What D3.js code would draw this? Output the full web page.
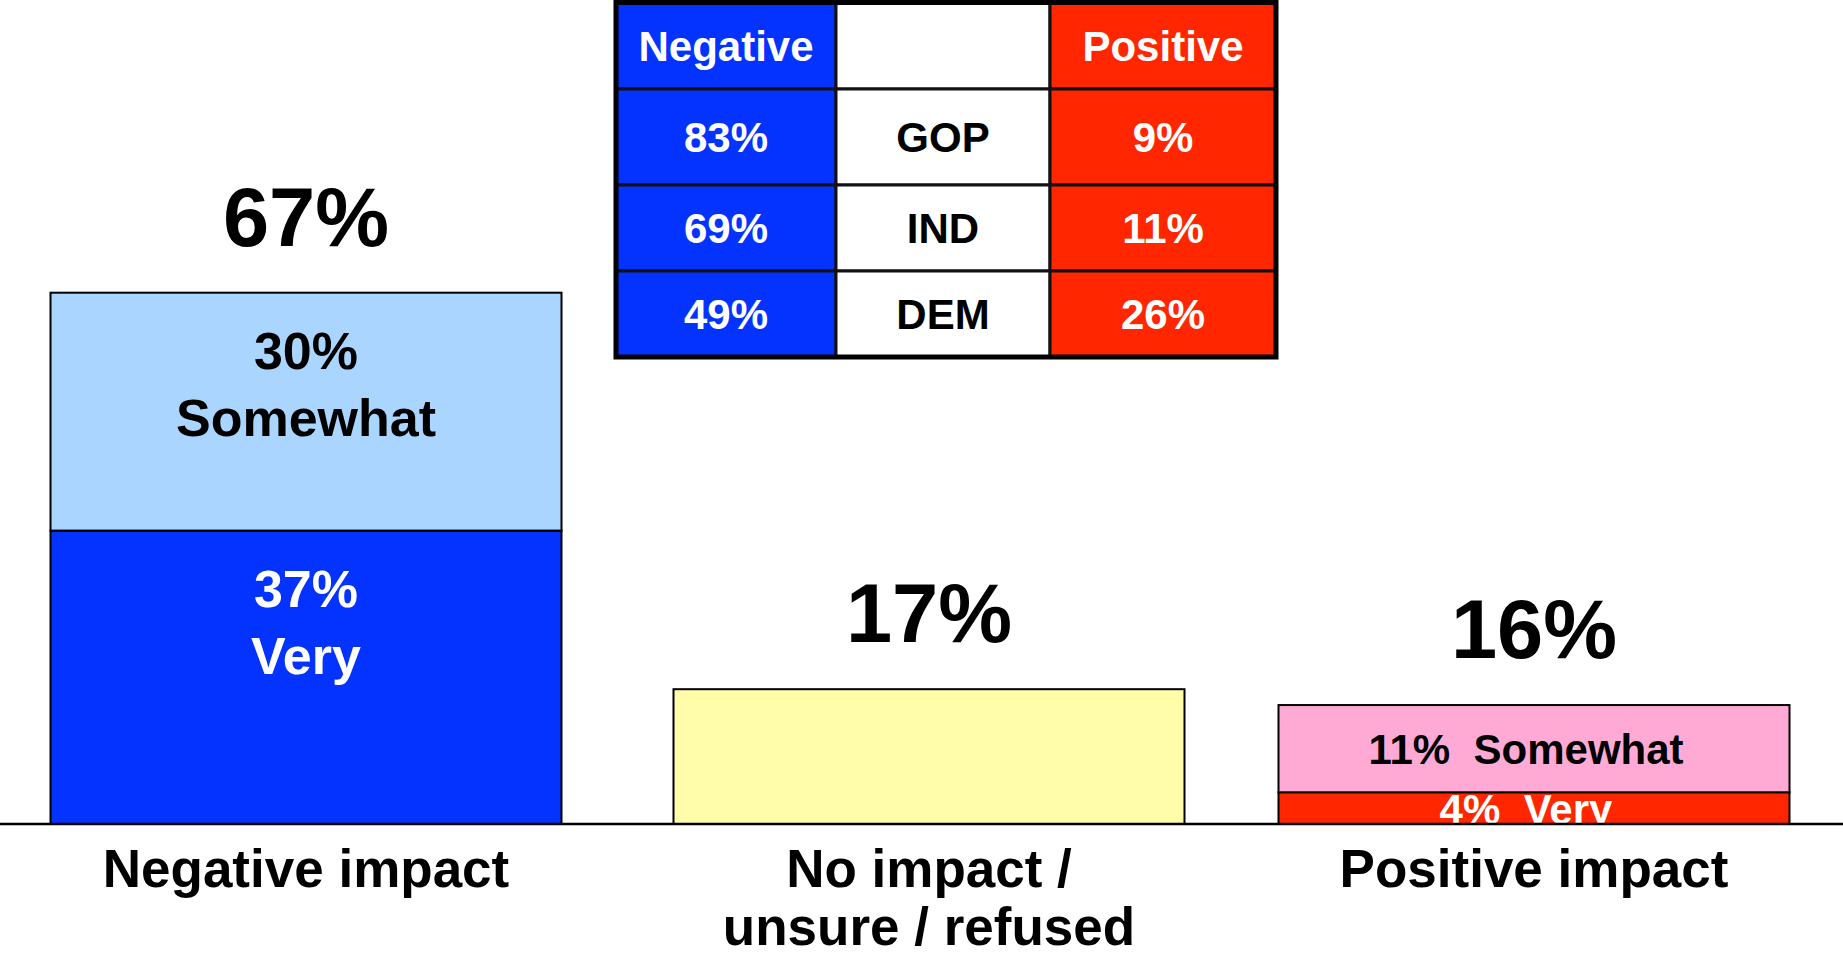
<!DOCTYPE html>
<html>
<head>
<meta charset="utf-8">
<script src="https://cdn.jsdelivr.net/npm/d3@7/dist/d3.min.js"></script>
<style>
  html, body { margin: 0; padding: 0; background: #fff; }
  svg text { font-family: "Liberation Sans", Arial, Helvetica, sans-serif; font-weight: bold; }
</style>
</head>
<body>
<div id="chart"></div>
<script>
// bar chart data
var categories = ["Negative impact", "No impact / unsure / refused", "Positive impact"];
var categoryLines = [["Negative impact"], ["No impact /", "unsure / refused"], ["Positive impact"]];
var totalLabels = ["67%", "17%", "16%"];
var veryValues = [37, 0, 4];
var somewhatValues = [30, 0, 11];
var neutralValues = [0, 17, 0];

// party table data
var tableHeaders = ["Negative", "", "Positive"];
var partyGroups = ["GOP", "IND", "DEM"];
var partyNegative = [83, 69, 49];
var partyPositive = [9, 11, 26];

var width = 1843, height = 954;
var baseY = 824;
var barW = 511;

var svg = d3.select("#chart").append("svg")
    .attr("width", width)
    .attr("height", height);

// bars are not evenly spaced in the original slide, so map to centers
var xc = d3.scaleOrdinal()
    .domain(categories)
    .range([306, 929, 1534]);

var y = d3.scaleLinear()
    .domain([0, 67])
    .range([baseY, 292.7]);

var rows = categories.map(function(c, i) {
    return { category: c, very: veryValues[i], somewhat: somewhatValues[i], neutral: neutralValues[i], idx: i };
});

var stack = d3.stack().keys(["very", "somewhat", "neutral"]);
var series = stack(rows);

var colors = {
    very: ["#0433ff", null, "#ff2600"],
    somewhat: ["#a9d5ff", null, "#ffaad5"],
    neutral: [null, "#fffcaa", null]
};

svg.append("defs").append("clipPath")
    .attr("id", "above-axis")
    .append("rect")
    .attr("x", 0).attr("y", 0)
    .attr("width", width).attr("height", baseY);

// bars
var barG = svg.append("g");
series.forEach(function(s) {
    barG.selectAll(null)
        .data(s.filter(function(d) { return d[1] > d[0]; }))
        .enter()
        .append("rect")
        .attr("x", function(d) { return xc(d.data.category) - barW / 2; })
        .attr("y", function(d) { return y(d[1]); })
        .attr("width", barW)
        .attr("height", function(d) { return y(d[0]) - y(d[1]); })
        .attr("fill", function(d) { return colors[s.key][d.data.idx]; })
        .attr("stroke", "#000")
        .attr("stroke-width", 2);
});

// segment labels
var segFont = [52, null, 42];
var labelG = svg.append("g").attr("clip-path", "url(#above-axis)");
series.forEach(function(s) {
    if (s.key === "neutral") return;
    s.forEach(function(d) {
        var i = d.data.idx;
        if (d[1] <= d[0]) return;
        var cx = xc(d.data.category);
        var val = d[1] - d[0];
        var word = s.key === "very" ? "Very" : "Somewhat";
        var fill = s.key === "very" ? "#fff" : "#000";
        if (i === 0) {
            var t = labelG.append("text")
                .attr("text-anchor", "middle")
                .attr("font-size", segFont[i])
                .attr("fill", fill);
            t.append("tspan").attr("x", cx).attr("y", y(d[1]) + 76).text(val + "%");
            t.append("tspan").attr("x", cx).attr("y", y(d[1]) + 143).text(word);
        } else {
            var mid = (y(d[0]) + y(d[1])) / 2;
            labelG.append("text")
                .attr("x", cx - 8)
                .attr("y", mid + segFont[i] * 0.37)
                .attr("text-anchor", "middle")
                .attr("font-size", segFont[i])
                .attr("fill", fill)
                .attr("xml:space", "preserve")
                .style("white-space", "pre")
                .text(val + "%  " + word);
        }
    });
});

// baseline
svg.append("line")
    .attr("x1", 0).attr("x2", width)
    .attr("y1", baseY).attr("y2", baseY)
    .attr("stroke", "#000")
    .attr("stroke-width", 2.5);

// totals above bars
svg.append("g").selectAll("text")
    .data(rows)
    .enter()
    .append("text")
    .attr("x", function(d) { return xc(d.category); })
    .attr("y", function(d) { return y(d.very + d.somewhat + d.neutral) - 47; })
    .attr("text-anchor", "middle")
    .attr("font-size", 83)
    .attr("fill", "#000")
    .text(function(d, i) { return totalLabels[i]; });

// category labels
var catG = svg.append("g");
categoryLines.forEach(function(lines, i) {
    var t = catG.append("text")
        .attr("text-anchor", "middle")
        .attr("font-size", 53)
        .attr("fill", "#000");
    lines.forEach(function(l, j) {
        t.append("tspan")
            .attr("x", xc(categories[i]))
            .attr("y", 887 + j * 58)
            .text(l);
    });
});

// party table
var tbl = svg.append("g");
var colEdges = [616, 836, 1050, 1276];
var rowEdges = [2.5, 89, 185, 271, 357];
var cellFill = ["#0433ff", "#fff", "#ff2600"];
var cellText = ["#fff", "#000", "#fff"];
var tableRows = [tableHeaders].concat(partyGroups.map(function(g, i) {
    return [partyNegative[i] + "%", g, partyPositive[i] + "%"];
}));

tableRows.forEach(function(r, ri) {
    r.forEach(function(txt, ci) {
        var y0 = rowEdges[ri], y1 = rowEdges[ri + 1];
        var x0 = colEdges[ci], x1 = colEdges[ci + 1];
        tbl.append("rect")
            .attr("x", x0)
            .attr("y", y0)
            .attr("width", x1 - x0)
            .attr("height", y1 - y0)
            .attr("fill", cellFill[ci])
            .attr("stroke", "#111")
            .attr("stroke-width", 3);
        tbl.append("text")
            .attr("x", (x0 + x1) / 2)
            .attr("y", (y0 + y1) / 2 + 42 * 0.358)
            .attr("text-anchor", "middle")
            .attr("font-size", 42)
            .attr("fill", cellText[ci])
            .text(txt);
    });
});

tbl.append("rect")
    .attr("x", colEdges[0]).attr("y", rowEdges[0])
    .attr("width", colEdges[3] - colEdges[0]).attr("height", rowEdges[4] - rowEdges[0])
    .attr("fill", "none")
    .attr("stroke", "#000")
    .attr("stroke-width", 5);
</script>
</body>
</html>
